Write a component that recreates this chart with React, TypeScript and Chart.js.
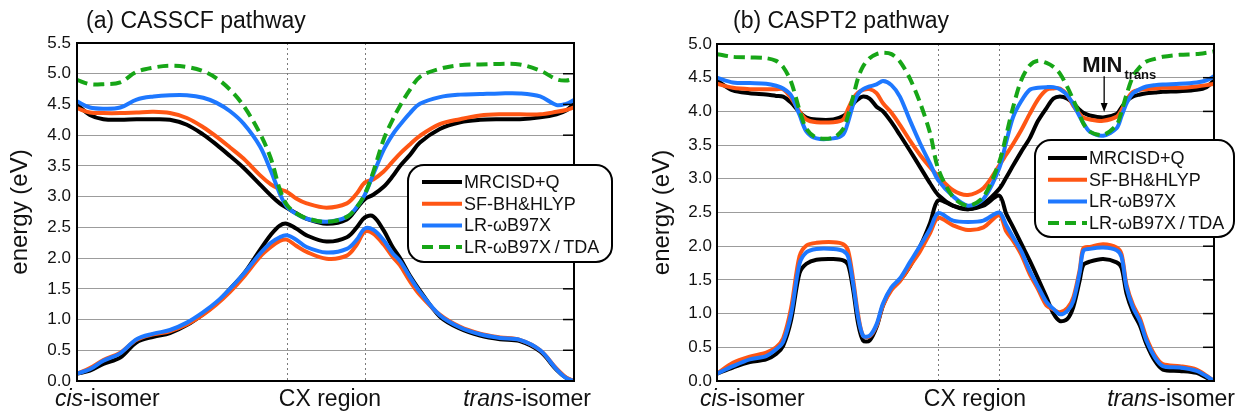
import React, { useEffect, useRef } from "react";
import { Chart, registerables } from "chart.js";

Chart.register(...registerables);

const FONT = '"Liberation Sans", Arial, Helvetica, sans-serif';

// ---------- text ----------
const panelTitles = ["(a) CASSCF pathway", "(b) CASPT2 pathway"];
const yAxisTitle = "energy (eV)";
const cisLabel = ["cis", "-isomer"];
const cxLabel = "CX region";
const transLabel = ["trans", "-isomer"];
const methodNames = ["MRCISD+Q", "SF-BH&HLYP", "LR-\u03c9B97X", "LR-\u03c9B97X\u2009/\u2009TDA"];
const minLabel = ["MIN", "trans"];

// ---------- ticks ----------
const leftTicks = [0, 0.5, 1, 1.5, 2, 2.5, 3, 3.5, 4, 4.5, 5, 5.5];
const leftTickLabels = ["0.0", "0.5", "1.0", "1.5", "2.0", "2.5", "3.0", "3.5", "4.0", "4.5", "5.0", "5.5"];
const rightTicks = [0, 0.5, 1, 1.5, 2, 2.5, 3, 3.5, 4, 4.5, 5];
const rightTickLabels = ["0.0", "0.5", "1.0", "1.5", "2.0", "2.5", "3.0", "3.5", "4.0", "4.5", "5.0"];

// CX region boundaries (reaction-path %)
const leftCx = [42.2, 57.9];
const rightCx = [44.5, 56.8];

// ---------- (a) CASSCF pathway ----------
const leftX = [0, 2.6, 5.3, 8.7, 12, 15.4, 18.7, 22.1, 25.4, 28, 30.8, 33.5, 36.8, 39, 40.8, 42.2, 44.1, 46.2, 50.2, 54.3, 56.3, 57.9, 59.6, 61.7, 63.5, 65, 67, 69, 73, 77.1, 81.1, 85.1, 89.1, 93.2, 96.5, 98.4, 100];
const leftMrciUpper = [4.50, 4.33, 4.26, 4.25, 4.26, 4.26, 4.25, 4.17, 4.01, 3.85, 3.66, 3.47, 3.20, 3.02, 2.89, 2.82, 2.73, 2.64, 2.56, 2.63, 2.81, 2.96, 3.03, 3.16, 3.33, 3.50, 3.68, 3.88, 4.10, 4.21, 4.25, 4.26, 4.26, 4.29, 4.34, 4.40, 4.51];
const leftMrciLower = [0.12, 0.17, 0.28, 0.38, 0.63, 0.72, 0.78, 0.91, 1.09, 1.26, 1.50, 1.74, 2.13, 2.38, 2.53, 2.56, 2.48, 2.37, 2.27, 2.34, 2.50, 2.66, 2.68, 2.45, 2.18, 2.00, 1.71, 1.47, 1.05, 0.85, 0.74, 0.68, 0.65, 0.48, 0.18, 0.05, 0.0];
const leftSfUpper = [4.44, 4.37, 4.36, 4.36, 4.37, 4.38, 4.36, 4.28, 4.13, 3.98, 3.80, 3.62, 3.35, 3.20, 3.12, 3.08, 2.97, 2.89, 2.82, 2.89, 3.05, 3.23, 3.28, 3.41, 3.57, 3.70, 3.85, 3.99, 4.18, 4.26, 4.32, 4.34, 4.34, 4.34, 4.38, 4.41, 4.45];
const leftSfLower = [0.12, 0.21, 0.34, 0.46, 0.67, 0.76, 0.81, 0.92, 1.08, 1.24, 1.45, 1.69, 2.02, 2.18, 2.28, 2.30, 2.20, 2.10, 1.99, 2.04, 2.22, 2.43, 2.40, 2.22, 2.02, 1.88, 1.62, 1.40, 1.08, 0.88, 0.77, 0.71, 0.67, 0.50, 0.20, 0.06, 0.0];
const leftLrUpper = [4.55, 4.45, 4.43, 4.45, 4.58, 4.63, 4.65, 4.65, 4.61, 4.53, 4.39, 4.19, 3.82, 3.42, 3.05, 2.84, 2.72, 2.64, 2.59, 2.67, 2.83, 3.03, 3.36, 3.76, 4.01, 4.17, 4.36, 4.51, 4.62, 4.66, 4.67, 4.68, 4.68, 4.63, 4.49, 4.51, 4.57];
const leftLrLower = [0.12, 0.19, 0.33, 0.45, 0.68, 0.77, 0.83, 0.95, 1.12, 1.28, 1.50, 1.74, 2.07, 2.25, 2.34, 2.37, 2.30, 2.18, 2.09, 2.15, 2.30, 2.48, 2.46, 2.29, 2.08, 1.95, 1.69, 1.45, 1.07, 0.87, 0.76, 0.70, 0.67, 0.50, 0.19, 0.05, 0.0];
const leftTdaUpper = [4.90, 4.83, 4.83, 4.86, 5.03, 5.10, 5.13, 5.11, 5.04, 4.93, 4.74, 4.48, 4.03, 3.62, 3.12, 2.87, 2.73, 2.65, 2.59, 2.67, 2.83, 3.04, 3.40, 3.93, 4.25, 4.48, 4.74, 4.95, 5.08, 5.14, 5.15, 5.16, 5.15, 5.05, 4.91, 4.89, 4.92];

// ---------- (b) CASPT2 pathway ----------
const rightX = [0, 3.2, 6.6, 9.9, 11.9, 13.3, 14.9, 16.6, 18.0, 20.0, 23.4, 25.4, 26.4, 27.4, 28.4, 29.4, 30.7, 32.1, 33.4, 35.1, 36.8, 38.8, 40.9, 42.9, 44.5, 47.5, 50.5, 53.6, 56.8, 58.2, 59.6, 61.2, 62.9, 64.6, 66.3, 67.7, 69.0, 70.5, 71.7, 73.0, 73.7, 75.0, 77.7, 80.4, 81.4, 82.4, 83.7, 85.1, 86.4, 88.1, 89.7, 93.1, 96.5, 98.5, 100];
const rightMrciUpper = [4.46, 4.31, 4.27, 4.25, 4.23, 4.22, 4.13, 3.99, 3.91, 3.88, 3.88, 3.93, 4.00, 4.11, 4.18, 4.22, 4.19, 4.07, 4.00, 3.84, 3.65, 3.42, 3.17, 2.93, 2.76, 2.60, 2.55, 2.63, 2.85, 3.02, 3.20, 3.40, 3.60, 3.86, 4.05, 4.19, 4.22, 4.19, 4.12, 4.02, 3.98, 3.94, 3.91, 3.96, 4.06, 4.15, 4.22, 4.25, 4.27, 4.28, 4.29, 4.30, 4.32, 4.36, 4.46];
const rightMrciLower = [0.11, 0.20, 0.28, 0.32, 0.40, 0.52, 0.90, 1.60, 1.74, 1.80, 1.81, 1.79, 1.72, 1.35, 0.85, 0.60, 0.60, 0.80, 1.12, 1.37, 1.49, 1.70, 2.00, 2.35, 2.68, 2.60, 2.55, 2.60, 2.75, 2.48, 2.28, 2.04, 1.79, 1.52, 1.24, 1.00, 0.89, 0.92, 1.10, 1.50, 1.72, 1.77, 1.81, 1.76, 1.68, 1.30, 1.02, 0.82, 0.55, 0.30, 0.17, 0.15, 0.12, 0.05, 0.0];
const rightSfUpper = [4.41, 4.35, 4.33, 4.33, 4.33, 4.33, 4.20, 4.00, 3.88, 3.84, 3.84, 3.88, 4.04, 4.19, 4.28, 4.32, 4.33, 4.27, 4.12, 3.98, 3.80, 3.57, 3.35, 3.17, 3.04, 2.83, 2.76, 2.86, 3.20, 3.36, 3.52, 3.72, 3.96, 4.18, 4.32, 4.34, 4.34, 4.24, 4.08, 3.96, 3.91, 3.88, 3.86, 3.92, 4.02, 4.17, 4.29, 4.32, 4.33, 4.34, 4.35, 4.35, 4.37, 4.39, 4.41];
const rightSfLower = [0.11, 0.27, 0.36, 0.42, 0.50, 0.63, 1.08, 1.85, 2.01, 2.05, 2.06, 2.03, 1.93, 1.50, 0.98, 0.67, 0.66, 0.82, 1.12, 1.35, 1.48, 1.70, 1.93, 2.20, 2.42, 2.31, 2.24, 2.28, 2.46, 2.22, 2.08, 1.88, 1.59, 1.36, 1.12, 1.06, 1.02, 1.08, 1.24, 1.66, 1.97, 1.99, 2.03, 1.98, 1.88, 1.43, 1.13, 0.93, 0.64, 0.38, 0.25, 0.22, 0.17, 0.08, 0.0];
const rightLrUpper = [4.50, 4.43, 4.42, 4.41, 4.38, 4.34, 4.24, 3.95, 3.70, 3.60, 3.60, 3.66, 3.85, 4.10, 4.26, 4.33, 4.37, 4.40, 4.45, 4.39, 4.22, 3.87, 3.52, 3.22, 2.98, 2.74, 2.60, 2.70, 3.16, 3.55, 3.92, 4.15, 4.32, 4.35, 4.36, 4.36, 4.33, 4.24, 4.10, 3.92, 3.83, 3.70, 3.64, 3.75, 3.93, 4.12, 4.27, 4.33, 4.37, 4.39, 4.40, 4.41, 4.43, 4.46, 4.52];
const rightLrLower = [0.11, 0.22, 0.32, 0.37, 0.47, 0.58, 0.99, 1.74, 1.91, 1.96, 1.96, 1.93, 1.84, 1.44, 0.94, 0.67, 0.67, 0.84, 1.15, 1.39, 1.52, 1.76, 2.01, 2.26, 2.49, 2.38, 2.36, 2.38, 2.50, 2.31, 2.13, 1.93, 1.64, 1.40, 1.17, 1.07, 0.99, 1.04, 1.19, 1.62, 1.93, 1.96, 1.98, 1.94, 1.84, 1.39, 1.09, 0.89, 0.60, 0.35, 0.22, 0.20, 0.15, 0.07, 0.0];
const rightTdaUpper = [4.85, 4.81, 4.80, 4.79, 4.75, 4.66, 4.44, 4.02, 3.74, 3.61, 3.61, 3.74, 3.95, 4.22, 4.50, 4.67, 4.79, 4.85, 4.87, 4.85, 4.74, 4.49, 4.12, 3.67, 3.15, 2.73, 2.60, 2.73, 3.25, 3.65, 4.07, 4.46, 4.68, 4.75, 4.72, 4.66, 4.56, 4.36, 4.17, 3.95, 3.82, 3.70, 3.65, 3.80, 4.00, 4.25, 4.52, 4.66, 4.74, 4.78, 4.81, 4.84, 4.85, 4.87, 4.89];

// MIN_trans arrow (path %, energy)
const minArrow = { x: 77.9, tip: 3.99, tail: 4.52 };

// ---------- styles ----------
const methodColors = ["#000000", "#ff5614", "#1e78ff", "#17a617"];
const methodDash: number[][] = [[], [], [], [11, 6]];
const methodOrder = [3, 2, 1, 0];

type Panel = {
  title: string;
  titleX: number;
  yMax: number;
  ticks: number[];
  tickLabels: string[];
  padTop: number;
  padBottom: number;
  padRight: number;
  yWidth: number;
  tickPad: number;
  yTitlePad: number;
  cx: number[];
  xs: number[];
  upper: number[][];
  lower: (number[] | null)[];
  cisX: number;
  cxX: number;
  transRight: number;
  labelY: number;
  tension: number;
  legend: { x: number; y: number; w: number; h: number; r: number; row0: number; gap: number; l0: number; l1: number; tx: number };
  annotate: boolean;
};

const leftPanel: Panel = {
  title: panelTitles[0],
  titleX: 86,
  yMax: 5.5,
  ticks: leftTicks,
  tickLabels: leftTickLabels,
  padTop: 43,
  padBottom: 33,
  padRight: 44,
  yWidth: 77,
  tickPad: 6,
  yTitlePad: 6,
  cx: leftCx,
  xs: leftX,
  upper: [leftMrciUpper, leftSfUpper, leftLrUpper, leftTdaUpper],
  lower: [leftMrciLower, leftSfLower, leftLrLower, null],
  cisX: 55,
  cxX: 330,
  transRight: 591,
  labelY: 400,
  tension: 0.35,
  legend: { x: 408, y: 165, w: 204, h: 97, r: 16, row0: 182, gap: 21.7, l0: 422, l1: 462, tx: 464 },
  annotate: false,
};

const rightPanel: Panel = {
  title: panelTitles[1],
  titleX: 115,
  yMax: 5.0,
  ticks: rightTicks,
  tickLabels: rightTickLabels,
  padTop: 44,
  padBottom: 33,
  padRight: 22,
  yWidth: 99,
  tickPad: 5,
  yTitlePad: 30,
  cx: rightCx,
  xs: rightX,
  upper: [rightMrciUpper, rightSfUpper, rightLrUpper, rightTdaUpper],
  lower: [rightMrciLower, rightSfLower, rightLrLower, null],
  cisX: 82,
  cxX: 357,
  transRight: 617,
  labelY: 400,
  tension: 0.3,
  legend: { x: 417, y: 140, w: 199, h: 97, r: 16, row0: 158, gap: 21.7, l0: 430, l1: 469, tx: 471 },
  annotate: true,
};

function pts(xs: number[], ys: number[]) {
  return xs.map((x, i) => ({ x, y: ys[i] }));
}

function drawPair(ctx: CanvasRenderingContext2D, parts: string[], x: number, y: number, alignRight: boolean) {
  const it = `italic 23px ${FONT}`;
  const nm = `23px ${FONT}`;
  ctx.font = it;
  const w1 = ctx.measureText(parts[0]).width;
  ctx.font = nm;
  const w2 = ctx.measureText(parts[1]).width;
  const start = alignRight ? x - w1 - w2 : x;
  ctx.textAlign = "left";
  ctx.font = it;
  ctx.fillText(parts[0], start, y);
  ctx.font = nm;
  ctx.fillText(parts[1], start + w1, y);
}

function makePlugin(p: Panel) {
  return {
    id: "decor",
    beforeDatasetsDraw(chart: any) {
      const { ctx, chartArea, scales } = chart;
      ctx.save();
      ctx.strokeStyle = "#7a7a7a";
      ctx.lineWidth = 1;
      ctx.setLineDash([2, 3]);
      p.cx.forEach((v) => {
        const px = Math.round(scales.x.getPixelForValue(v)) + 0.5;
        ctx.beginPath();
        ctx.moveTo(px, chartArea.top);
        ctx.lineTo(px, chartArea.bottom);
        ctx.stroke();
      });
      ctx.restore();
    },
    afterDatasetsDraw(chart: any) {
      const { ctx, chartArea, scales } = chart;
      const { left, right, top, bottom } = chartArea;
      ctx.save();
      ctx.setLineDash([]);
      ctx.strokeStyle = "#000";
      ctx.lineWidth = 1.5;
      p.ticks.forEach((v) => {
        const py = scales.y.getPixelForValue(v);
        ctx.beginPath();
        ctx.moveTo(right, py);
        ctx.lineTo(right - 11, py);
        ctx.stroke();
      });
      ctx.lineWidth = 2;
      ctx.strokeRect(left, top, right - left, bottom - top);
      ctx.restore();
    },
    afterDraw(chart: any) {
      const { ctx, scales } = chart;
      ctx.save();
      ctx.fillStyle = "#111";
      ctx.font = `23px ${FONT}`;
      ctx.textBaseline = "middle";
      ctx.textAlign = "left";
      ctx.fillText(p.title, p.titleX, 22);
      drawPair(ctx, cisLabel, p.cisX, p.labelY, false);
      ctx.font = `23px ${FONT}`;
      ctx.textAlign = "center";
      ctx.fillText(cxLabel, p.cxX, p.labelY);
      drawPair(ctx, transLabel, p.transRight, p.labelY, true);

      const L = p.legend;
      ctx.beginPath();
      ctx.roundRect(L.x, L.y, L.w, L.h, L.r);
      ctx.fillStyle = "#fff";
      ctx.fill();
      ctx.lineWidth = 2;
      ctx.strokeStyle = "#000";
      ctx.stroke();
      methodNames.forEach((name, i) => {
        const yy = L.row0 + i * L.gap;
        ctx.beginPath();
        ctx.setLineDash(methodDash[i]);
        ctx.strokeStyle = methodColors[i];
        ctx.lineWidth = 4;
        ctx.moveTo(L.l0, yy);
        ctx.lineTo(L.l1, yy);
        ctx.stroke();
        ctx.setLineDash([]);
        ctx.fillStyle = "#111";
        ctx.font = `18px ${FONT}`;
        ctx.textAlign = "left";
        ctx.textBaseline = "middle";
        ctx.fillText(name, L.tx, yy + 1);
      });

      if (p.annotate) {
        const ax = scales.x.getPixelForValue(minArrow.x);
        const tipY = scales.y.getPixelForValue(minArrow.tip);
        const tailY = scales.y.getPixelForValue(minArrow.tail);
        ctx.strokeStyle = "#000";
        ctx.fillStyle = "#000";
        ctx.lineWidth = 1.3;
        ctx.beginPath();
        ctx.moveTo(ax, tailY);
        ctx.lineTo(ax, tipY - 6);
        ctx.stroke();
        ctx.beginPath();
        ctx.moveTo(ax, tipY);
        ctx.lineTo(ax - 3.5, tipY - 9);
        ctx.lineTo(ax + 3.5, tipY - 9);
        ctx.closePath();
        ctx.fill();
        ctx.textBaseline = "alphabetic";
        ctx.textAlign = "left";
        ctx.font = `bold 22px ${FONT}`;
        ctx.fillStyle = "#111";
        const mx = ax - 22;
        ctx.fillText(minLabel[0], mx, 72);
        const mw = ctx.measureText(minLabel[0]).width;
        ctx.font = `bold 13px ${FONT}`;
        ctx.fillText(minLabel[1], mx + mw + 2, 79);
      }
      ctx.restore();
    },
  };
}

function buildConfig(p: Panel): any {
  const datasets: any[] = [];
  for (let i = 0; i < 4; i++) {
    const base = {
      borderColor: methodColors[i],
      backgroundColor: methodColors[i],
      borderWidth: 4,
      borderDash: methodDash[i],
      borderJoinStyle: "round",
      pointRadius: 0,
      fill: false,
      tension: p.tension,
      order: methodOrder[i],
    };
    datasets.push({ ...base, label: methodNames[i], data: pts(p.xs, p.upper[i]) });
    const lo = p.lower[i];
    if (lo) datasets.push({ ...base, label: methodNames[i] + " S0", data: pts(p.xs, lo) });
  }
  return {
    type: "line",
    data: { datasets },
    options: {
      animation: false,
      responsive: false,
      devicePixelRatio: 1,
      layout: { padding: { left: 0, top: p.padTop, right: p.padRight, bottom: p.padBottom } },
      plugins: { legend: { display: false }, tooltip: { enabled: false }, title: { display: false } },
      scales: {
        x: { type: "linear", min: 0, max: 100, display: false },
        y: {
          type: "linear",
          min: 0,
          max: p.yMax,
          afterFit: (s: any) => {
            s.width = p.yWidth;
          },
          afterBuildTicks: (s: any) => {
            s.ticks = p.ticks.map((v) => ({ value: v }));
          },
          ticks: {
            autoSkip: false,
            callback: (_v: any, i: number) => p.tickLabels[i],
            font: { family: FONT, size: 17 },
            color: "#111",
            padding: p.tickPad,
          },
          grid: { color: "#9c9c9c", lineWidth: 1, drawTicks: false },
          border: { display: false },
          title: {
            display: true,
            text: yAxisTitle,
            font: { family: FONT, size: 24 },
            color: "#111",
            padding: { top: p.yTitlePad, bottom: 0 },
          },
        },
      },
    },
    plugins: [makePlugin(p)],
  };
}

export default function App() {
  const leftRef = useRef<HTMLCanvasElement>(null);
  const rightRef = useRef<HTMLCanvasElement>(null);
  useEffect(() => {
    const c1 = new Chart(leftRef.current as HTMLCanvasElement, buildConfig(leftPanel));
    const c2 = new Chart(rightRef.current as HTMLCanvasElement, buildConfig(rightPanel));
    return () => {
      c1.destroy();
      c2.destroy();
    };
  }, []);
  return (
    <div style={{ position: "absolute", left: 0, top: 0, width: 1236, height: 414, background: "#fff" }}>
      <canvas ref={leftRef} width={618} height={414} style={{ position: "absolute", left: 0, top: 0, width: 618, height: 414 }} />
      <canvas ref={rightRef} width={618} height={414} style={{ position: "absolute", left: 618, top: 0, width: 618, height: 414 }} />
    </div>
  );
}
